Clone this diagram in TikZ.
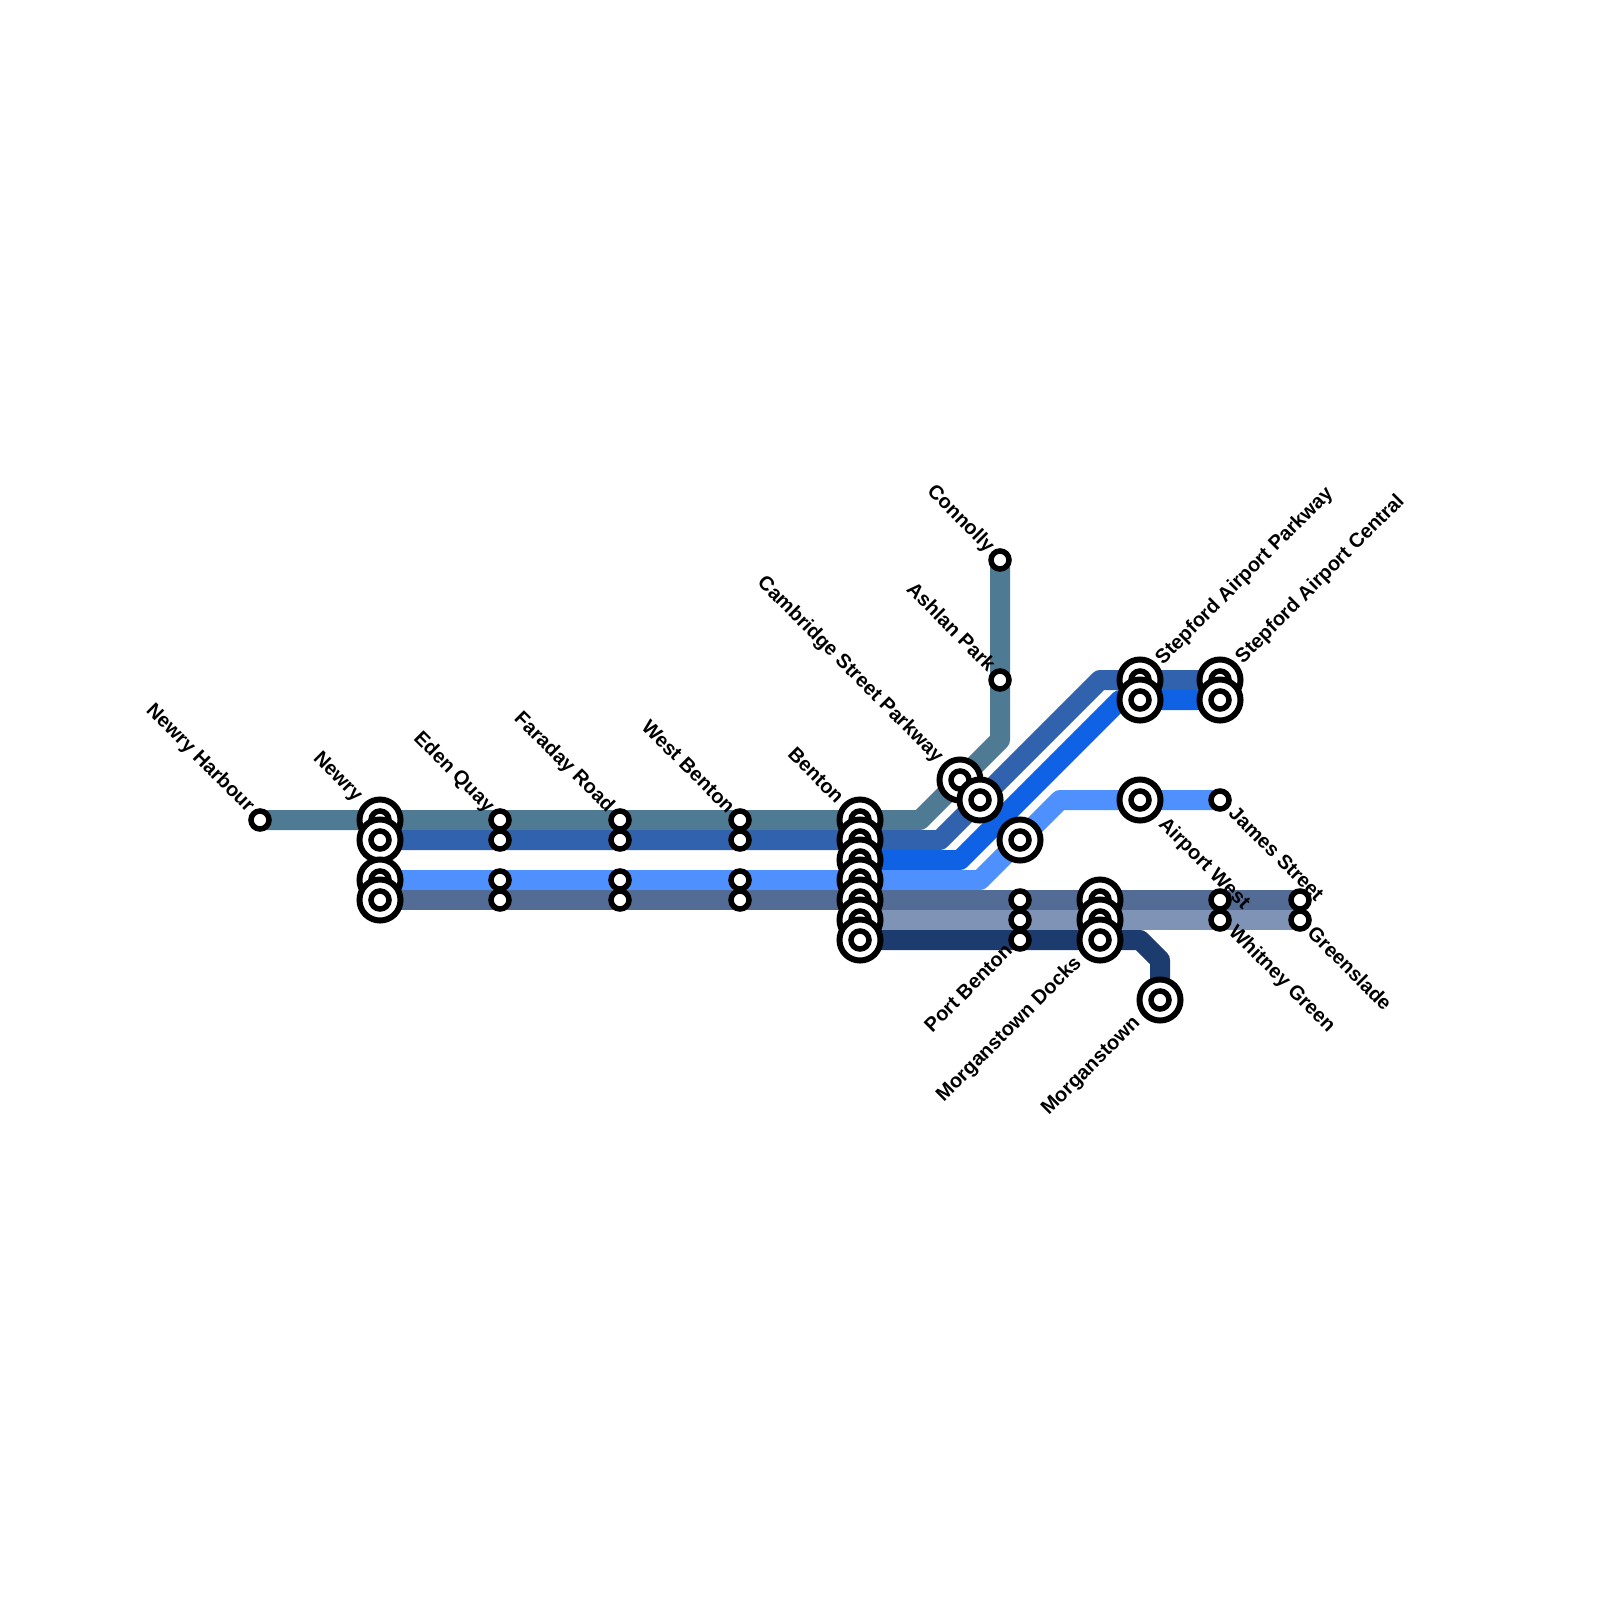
\documentclass[tikz,border=0pt]{standalone}
\usepackage{fontspec}
\setmainfont{Liberation Sans}
\usetikzlibrary{backgrounds}
\definecolor{cteal}{HTML}{4E7A94}
\definecolor{cblue}{HTML}{3062AE}
\definecolor{cbright}{HTML}{0F62E3}
\definecolor{clight}{HTML}{4D90FE}
\definecolor{cslate}{HTML}{536C96}
\definecolor{cpale}{HTML}{7F93B7}
\definecolor{cnavy}{HTML}{1C3B6E}
\tikzset{
  x=0.01cm,y=-0.01cm,
  track/.style={line width=0.2cm,line join=round},
  stop/.style={circle,draw=black,fill=white,line width=0.055cm,minimum size=0.18cm,inner sep=0pt,outer sep=0pt},
  hub/.style={circle,draw=black,fill=white,line width=0.06cm,minimum size=0.41cm,inner sep=0pt,outer sep=0pt,
    label={[stop]center:{}}},
  lbl/.style={font=\bfseries\fontsize{5.69pt}{6.5pt}\selectfont,inner sep=0pt,text=black},
  ul/.style={lbl,rotate=-45,anchor=east},
  dr/.style={lbl,rotate=-45,anchor=west},
  ur/.style={lbl,rotate=45,anchor=west},
  dl/.style={lbl,rotate=45,anchor=east},
}
\begin{document}
\begin{tikzpicture}
\useasboundingbox (0,0) rectangle (1600,1600);
% stations, top to bottom so that lower ones overlap upper ones
\node[stop] (harb) at (260,820) {};
\node[hub] (nw1) at (380,820) {};
\node[hub] (nw2) at (380,840) {};
\node[hub] (nw3) at (380,880) {};
\node[hub] (nw4) at (380,900) {};
\foreach \n/\x in {ed/500,fa/620,wb/740}{
  \node[stop] (\n1) at (\x,820) {};
  \node[stop] (\n2) at (\x,840) {};
  \node[stop] (\n3) at (\x,880) {};
  \node[stop] (\n4) at (\x,900) {};
}
\node[hub] (be1) at (860,820) {};
\node[hub] (be2) at (860,840) {};
\node[hub] (be3) at (860,860) {};
\node[hub] (be4) at (860,880) {};
\node[hub] (be5) at (860,900) {};
\node[hub] (be6) at (860,920) {};
\node[hub] (be7) at (860,940) {};
\node[stop] (con) at (1000,560) {};
\node[stop] (ash) at (1000,680) {};
\node[hub] (cam1) at (960,780) {};
\node[hub] (cam2) at (980,800) {};
\node[hub] (unn) at (1020,840) {};
\node[stop] (pb1) at (1020,900) {};
\node[stop] (pb2) at (1020,920) {};
\node[stop] (pb3) at (1020,940) {};
\node[hub] (md1) at (1100,900) {};
\node[hub] (md2) at (1100,920) {};
\node[hub] (md3) at (1100,940) {};
\node[hub] (mor) at (1160,1000) {};
\node[hub] (sp1) at (1140,680) {};
\node[hub] (sp2) at (1140,700) {};
\node[hub] (sc1) at (1220,680) {};
\node[hub] (sc2) at (1220,700) {};
\node[hub] (aw) at (1140,800) {};
\node[stop] (js) at (1220,800) {};
\node[stop] (wg1) at (1220,900) {};
\node[stop] (wg2) at (1220,920) {};
\node[stop] (gs1) at (1300,900) {};
\node[stop] (gs2) at (1300,920) {};
% bends
\coordinate (t1) at (920,820);
\coordinate (t2) at (1000,740);
\coordinate (b1) at (940,840);
\coordinate (b2) at (1100,680);
\coordinate (r1) at (960,860);
\coordinate (r2) at (1120,700);
\coordinate (l1) at (980,880);
\coordinate (l2) at (1060,800);
\coordinate (n1) at (1140,940);
\coordinate (n2) at (1160,960);
\begin{scope}[on background layer]
\draw[track,cteal] (harb.center) -- (t1) -- (t2) -- (con.center);
\draw[track,cblue] (nw2.center) -- (b1) -- (b2) -- (sc1.center);
\draw[track,cbright] (be3.center) -- (r1) -- (r2) -- (sc2.center);
\draw[track,clight] (nw3.center) -- (l1) -- (l2) -- (js.center);
\draw[track,cslate] (nw4.center) -- (gs1.center);
\draw[track,cpale] (be6.center) -- (gs2.center);
\draw[track,cnavy] (be7.center) -- (n1) -- (n2) -- (mor.center);
\end{scope}
% labels
\node[ul] (tharb) at (251,810) {Newry Harbour};
\node[ul] (tnw) at (359,799) {Newry};
\node[ul] (ted) at (491,810) {Eden Quay};
\node[ul] (tfa) at (611,810) {Faraday Road};
\node[ul] (twb) at (732,810) {West Benton};
\node[ul] (tbe) at (841,800) {Benton};
\node[ul] (tcam) at (940,760) {Cambridge Street Parkway};
\node[ul] (tash) at (993,668) {Ashlan Park};
\node[ul] (tcon) at (991,550) {Connolly};
\node[ur] (tsp) at (1159,662) {Stepford Airport Parkway};
\node[ur] (tsc) at (1239,661) {Stepford Airport Central};
\node[dr] (taw) at (1161,821) {Airport West};
\node[dr] (tjs) at (1232,809) {James Street};
\node[dr] (twg) at (1231,929) {Whitney Green};
\node[dr] (tgs) at (1311,929) {Greenslade};
\node[dl] (tpb) at (1009,947) {Port Benton};
\node[dl] (tmd) at (1079,960) {Morganstown Docks};
\node[dl] (tmo) at (1138,1020) {Morganstown};
\end{tikzpicture}
\end{document}
